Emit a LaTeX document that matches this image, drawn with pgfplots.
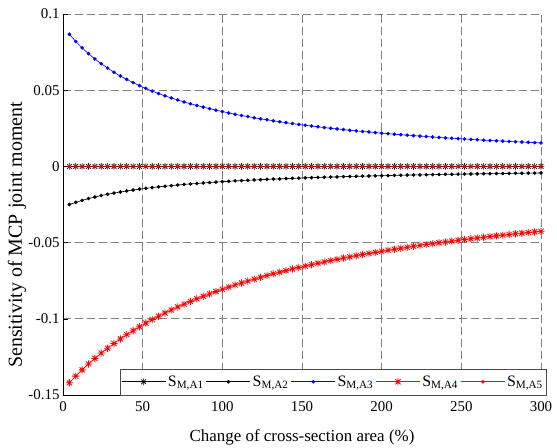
\documentclass[border=0pt]{standalone}
\usepackage{pgfplots}
\pgfplotsset{compat=1.18}
\usepackage{pgfplotstable}
\usepackage{fontspec}
\setmainfont{Liberation Serif}

\pgfdeclareplotmark{mstar}{%
  \pgfpathmoveto{\pgfqpoint{-\pgfplotmarksize}{0pt}}\pgfpathlineto{\pgfqpoint{\pgfplotmarksize}{0pt}}%
  \pgfpathmoveto{\pgfqpoint{0pt}{-\pgfplotmarksize}}\pgfpathlineto{\pgfqpoint{0pt}{\pgfplotmarksize}}%
  \pgfpathmoveto{\pgfqpoint{-0.707\pgfplotmarksize}{-0.707\pgfplotmarksize}}\pgfpathlineto{\pgfqpoint{0.707\pgfplotmarksize}{0.707\pgfplotmarksize}}%
  \pgfpathmoveto{\pgfqpoint{-0.707\pgfplotmarksize}{0.707\pgfplotmarksize}}\pgfpathlineto{\pgfqpoint{0.707\pgfplotmarksize}{-0.707\pgfplotmarksize}}%
  \pgfusepathqstroke}

\pgfplotstableread{
x a1 a2 a3 a4 a5
4 0 -0.0250 0.0867 -0.1420 0
8 0 -0.0236 0.0820 -0.1376 0
12 0 -0.0223 0.0778 -0.1335 0
16 0 -0.0211 0.0740 -0.1296 0
20 0 -0.0201 0.0705 -0.1260 0
24 0 -0.0191 0.0674 -0.1225 0
28 0 -0.0183 0.0645 -0.1193 0
32 0 -0.0175 0.0618 -0.1162 0
36 0 -0.0168 0.0593 -0.1132 0
40 0 -0.0161 0.0571 -0.1104 0
44 0 -0.0155 0.0550 -0.1078 0
48 0 -0.0149 0.0530 -0.1052 0
52 0 -0.0144 0.0512 -0.1028 0
56 0 -0.0139 0.0494 -0.1005 0
60 0 -0.0134 0.0478 -0.0983 0
64 0 -0.0130 0.0463 -0.0962 0
68 0 -0.0126 0.0449 -0.0942 0
72 0 -0.0122 0.0436 -0.0922 0
76 0 -0.0118 0.0423 -0.0904 0
80 0 -0.0115 0.0411 -0.0886 0
84 0 -0.0112 0.0400 -0.0869 0
88 0 -0.0109 0.0389 -0.0852 0
92 0 -0.0106 0.0379 -0.0837 0
96 0 -0.0103 0.0369 -0.0821 0
100 0 -0.0100 0.0360 -0.0806 0
104 0 -0.0098 0.0351 -0.0792 0
108 0 -0.0095 0.0342 -0.0778 0
112 0 -0.0093 0.0334 -0.0765 0
116 0 -0.0091 0.0327 -0.0752 0
120 0 -0.0089 0.0319 -0.0740 0
124 0 -0.0087 0.0312 -0.0728 0
128 0 -0.0085 0.0306 -0.0716 0
132 0 -0.0083 0.0299 -0.0705 0
136 0 -0.0082 0.0293 -0.0694 0
140 0 -0.0080 0.0287 -0.0684 0
144 0 -0.0078 0.0281 -0.0673 0
148 0 -0.0077 0.0275 -0.0664 0
152 0 -0.0075 0.0270 -0.0654 0
156 0 -0.0074 0.0265 -0.0645 0
160 0 -0.0072 0.0260 -0.0635 0
164 0 -0.0071 0.0255 -0.0627 0
168 0 -0.0070 0.0250 -0.0618 0
172 0 -0.0069 0.0246 -0.0610 0
176 0 -0.0067 0.0242 -0.0601 0
180 0 -0.0066 0.0237 -0.0594 0
184 0 -0.0065 0.0233 -0.0586 0
188 0 -0.0064 0.0229 -0.0578 0
192 0 -0.0063 0.0226 -0.0571 0
196 0 -0.0062 0.0222 -0.0564 0
200 0 -0.0061 0.0218 -0.0557 0
204 0 -0.0060 0.0215 -0.0550 0
208 0 -0.0059 0.0211 -0.0543 0
212 0 -0.0058 0.0208 -0.0537 0
216 0 -0.0057 0.0205 -0.0531 0
220 0 -0.0056 0.0202 -0.0524 0
224 0 -0.0056 0.0199 -0.0518 0
228 0 -0.0055 0.0196 -0.0512 0
232 0 -0.0054 0.0193 -0.0507 0
236 0 -0.0053 0.0190 -0.0501 0
240 0 -0.0052 0.0187 -0.0496 0
244 0 -0.0052 0.0185 -0.0490 0
248 0 -0.0051 0.0182 -0.0485 0
252 0 -0.0050 0.0180 -0.0480 0
256 0 -0.0050 0.0177 -0.0475 0
260 0 -0.0049 0.0175 -0.0470 0
264 0 -0.0048 0.0172 -0.0465 0
268 0 -0.0048 0.0170 -0.0460 0
272 0 -0.0047 0.0168 -0.0456 0
276 0 -0.0047 0.0166 -0.0451 0
280 0 -0.0046 0.0164 -0.0447 0
284 0 -0.0045 0.0162 -0.0442 0
288 0 -0.0045 0.0160 -0.0438 0
292 0 -0.0044 0.0158 -0.0434 0
296 0 -0.0044 0.0156 -0.0430 0
300 0 -0.0043 0.0154 -0.0426 0
}\datatable

\begin{document}
\begin{tikzpicture}
\begin{axis}[
  name=ax,
  scale only axis, width=478bp, height=381bp,
  at={(0,0)}, anchor=south west,
  xmin=0, xmax=300, ymin=-0.15, ymax=0.1,
  axis x line*=bottom, axis y line*=left,
  axis line style={black, line width=0.6bp},
  xtick={0,50,100,150,200,250,300},
  xticklabels={0,50,100,150,200,250,300},
  ytick={-0.15,-0.1,-0.05,0,0.05,0.1},
  yticklabels={-0.15,-0.1,-0.05,0,0.05,0.1},
  tick align=inside, major tick length=5bp,
  tick style={black, line width=0.5bp},
  grid=major,
  grid style={dash pattern=on 8bp off 4bp, black!50, line width=0.7bp},
  ticklabel style={font=\fontsize{15}{17}\selectfont},
  xticklabel style={yshift=-3bp},
  label style={font=\fontsize{17}{19}\selectfont},
  xlabel={Change of cross-section area (\%)},
  ylabel={Sensitivity of MCP joint moment},
  xlabel style={at={(axis description cs:0.5,-0.110)}, anchor=center},
  ylabel style={at={(axis description cs:-0.096,0.42)}, anchor=center, font=\fontsize{20}{22}\selectfont},
  legend columns=5,
  legend style={at={(1.0105,0)}, anchor=south east, draw=black!70, fill=white,
    font=\fontsize{16}{18}\selectfont, inner xsep=1bp, inner ysep=5bp,
    /tikz/every even column/.append style={column sep=0.5bp}},
  legend image code/.code={\draw[mark repeat=2, mark phase=2, #1] plot coordinates {(0bp,0bp) (22bp,0bp) (44bp,0bp)};},
]
\addplot[black, line width=0.6bp, mark=mstar, mark size=3.3bp, mark options={solid, line width=0.7bp}] table[x=x, y=a1] {\datatable};
\addlegendentry{S\textsubscript{M,A1}}
\addplot[black, line width=0.6bp, mark=*, mark size=1.5bp] table[x=x, y=a2] {\datatable};
\addlegendentry{S\textsubscript{M,A2}}
\addplot[blue, line width=0.6bp, mark=*, mark size=1.5bp] table[x=x, y=a3] {\datatable};
\addlegendentry{S\textsubscript{M,A3}}
\addplot[red, line width=0.6bp, mark=mstar, mark size=3.6bp, mark options={solid, line width=0.8bp}] table[x=x, y=a4] {\datatable};
\addlegendentry{S\textsubscript{M,A4}}
\addplot[red, line width=0.6bp, mark=*, mark size=1.5bp] table[x=x, y=a5] {\datatable};
\addlegendentry{S\textsubscript{M,A5}}
\end{axis}
\pgfresetboundingbox
\path[use as bounding box] ([shift={(-63bp,-53bp)}]ax.south west) rectangle ([shift={(16bp,14bp)}]ax.north east);
\end{tikzpicture}
\end{document}
